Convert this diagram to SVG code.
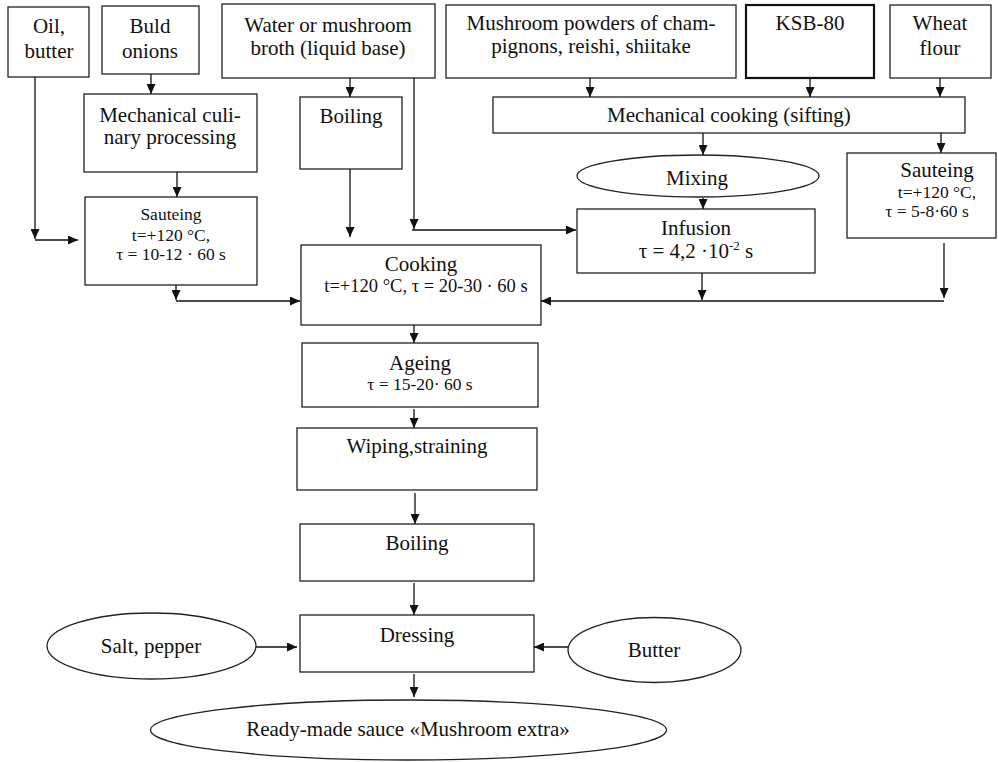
<svg xmlns="http://www.w3.org/2000/svg" width="998" height="762" viewBox="0 0 998 762">
<style>
.b{fill:#fff;stroke:#222;stroke-width:1.3}
.k{fill:#fff;stroke:#111;stroke-width:2.2}
text{font-family:"Liberation Serif","Times New Roman",serif;fill:#111;text-anchor:middle}
.t{font-size:21px}
.s{font-size:17.5px}
.c{font-size:18.5px}
.ln{fill:none;stroke:#111;stroke-width:1.3}
</style>
<defs>
<marker id="ah" markerUnits="userSpaceOnUse" markerWidth="10" markerHeight="9" refX="10" refY="4.5" orient="auto">
<path d="M0,0 L10,4.5 L0,9 z" fill="#111"/>
</marker>
</defs>
<rect width="998" height="762" fill="#fff"/>

<g id="oil"><rect class="b" x="8" y="7" width="81" height="70"/><text class="t" x="49" y="33">Oil,</text><text class="t" x="49" y="58">butter</text></g>
<g id="onions"><rect class="b" x="102" y="6" width="97" height="68"/><text class="t" x="150" y="33">Buld</text><text class="t" x="150" y="58">onions</text></g>
<g id="water"><rect class="b" x="222" y="4" width="213" height="74"/><text class="t" x="328" y="32">Water or mushroom</text><text class="t" x="328" y="55">broth (liquid base)</text></g>
<g id="powders"><rect class="b" x="446" y="5" width="290" height="73"/><text class="t" x="591" y="30">Mushroom powders of cham-</text><text class="t" x="591" y="53">pignons, reishi, shiitake</text></g>
<g id="ksb"><rect class="k" x="746" y="5" width="128" height="73"/><text class="t" x="810" y="30">KSB-80</text></g>
<g id="flour"><rect class="b" x="890" y="5" width="101" height="73"/><text class="t" x="940" y="30">Wheat</text><text class="t" x="940" y="55">flour</text></g>

<g id="mech"><rect class="b" x="84" y="94" width="173" height="78"/><text class="t" x="170" y="122">Mechanical culi-</text><text class="t" x="170" y="144">nary processing</text></g>
<g id="boil1"><rect class="b" x="300" y="97" width="102" height="72"/><text class="t" x="351" y="123">Boiling</text></g>
<g id="sift"><rect class="b" x="493" y="97" width="472" height="36"/><text class="t" x="729" y="122">Mechanical cooking (sifting)</text></g>

<g id="mixing"><ellipse class="b" cx="698" cy="176" rx="121" ry="21"/><text class="t" x="697" y="185">Mixing</text></g>
<g id="saut2"><rect class="b" x="847" y="153" width="149" height="85"/><text class="t" x="937" y="177">Sauteing</text><text class="s" x="937" y="198">t=+120 °C,</text><text class="s" x="927" y="217">τ = 5-8·60 s</text></g>
<g id="saut1"><rect class="b" x="85" y="197" width="172" height="88"/><text class="s" x="171" y="220">Sauteing</text><text class="s" x="171" y="241">t=+120 °C,</text><text class="s" x="171" y="260">τ = 10-12 · 60 s</text></g>
<g id="infusion"><rect class="b" x="577" y="209" width="238" height="64"/><text class="t" x="696" y="235">Infusion</text><text class="t" x="696" y="258">τ = 4,2 ·10<tspan font-size="13" dy="-8">-2</tspan><tspan dy="8"> s</tspan></text></g>
<g id="cooking"><rect class="b" x="301" y="245" width="240" height="80"/><text class="t" x="421" y="271">Cooking</text><text class="c" x="426" y="292">t=+120 °C, τ = 20-30 · 60 s</text></g>
<g id="ageing"><rect class="b" x="302" y="343" width="236" height="64"/><text class="t" x="420" y="370">Ageing</text><text class="s" x="420" y="390">τ = 15-20· 60 s</text></g>
<g id="wiping"><rect class="b" x="297" y="428" width="240" height="62"/><text class="t" x="417" y="453">Wiping,straining</text></g>
<g id="boil2"><rect class="b" x="300" y="524" width="234" height="57"/><text class="t" x="417" y="550">Boiling</text></g>
<g id="dressing"><rect class="b" x="300" y="615" width="234" height="57"/><text class="t" x="417" y="642">Dressing</text></g>
<g id="salt"><ellipse class="b" cx="151.5" cy="646" rx="104.5" ry="33"/><text class="t" x="151" y="653">Salt, pepper</text></g>
<g id="butter"><ellipse class="b" cx="654.5" cy="650" rx="86.5" ry="32.5"/><text class="t" x="654" y="657">Butter</text></g>
<g id="ready"><ellipse class="b" cx="408.5" cy="730" rx="258" ry="30"/><text class="t" x="408" y="736">Ready-made sauce «Mushroom extra»</text></g>

<g id="connectors" class="ln" marker-end="url(#ah)">
<path d="M35,77 V239"/>
<path d="M35,240 H78"/>
<path d="M151,74 V94"/>
<path d="M177,172 V197"/>
<path d="M176,285 V300"/>
<path d="M176,301 H300"/>
<path d="M350,78 V97"/>
<path d="M350,169 V237"/>
<path d="M414,78 V229"/>
<path d="M412,230 H576"/>
<path d="M590,78 V97"/>
<path d="M810,78 V97"/>
<path d="M940,78 V97"/>
<path d="M703,133 V155"/>
<path d="M941,133 V153"/>
<path d="M703,198 V209"/>
<path d="M702,273 V300"/>
<path d="M944,243 V298"/>
<path d="M944,301 H541"/>
<path d="M414,325 V343"/>
<path d="M414,409 V428"/>
<path d="M415,493 V524"/>
<path d="M414,583 V615"/>
<path d="M256,647 H297"/>
<path d="M568,647 H534"/>
<path d="M414,674 V697"/>
</g>
</svg>
